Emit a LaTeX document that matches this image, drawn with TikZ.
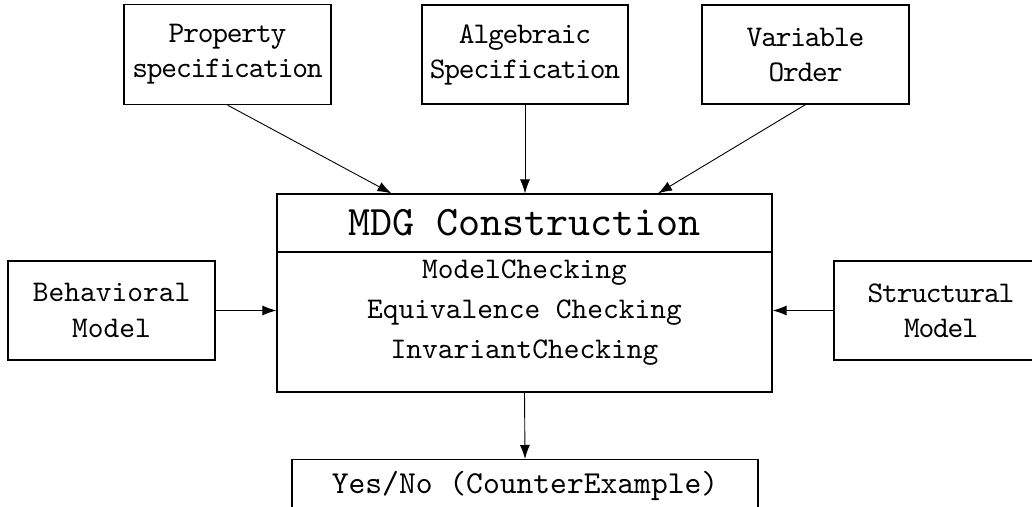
\documentclass[tikz,border=0pt]{standalone}
\usepackage{fontspec}
\usetikzlibrary{arrows.meta,calc}
% typewriter faces for the box labels
\newfontfamily\lblfont[Extension=.otf, LetterSpace=-4]{lmmono10-regular}
\newfontfamily\bodyfont[Extension=.otf]{lmmono10-regular}
\newfontfamily\headfont[Extension=.otf]{lmmono10-regular}
\begin{document}
\begin{tikzpicture}[x=1pt,y=-1pt,
  box/.style={draw, line width=1.2pt, inner sep=0pt, align=center},
  small/.style={font=\lblfont\fontsize{30}{35}\selectfont},
  wide/.style={font=\bodyfont\fontsize{30}{36}\selectfont},
  body/.style={font=\bodyfont\fontsize{30}{40}\selectfont, align=center, inner sep=0pt},
  head/.style={font=\headfont\fontsize{42}{48}\selectfont, inner sep=0pt},
  link/.style={line width=0.9pt, -{Latex[length=14pt,width=10pt]}}]
\useasboundingbox (0,0) rectangle (1032,506);
\clip (0,0) rectangle (1032,506);

% inputs along the top
\node[box, small, minimum width=207pt, minimum height=100pt] (prop) at (227.5,54.5) {Property\\specification};
\node[box, small, minimum width=206pt, minimum height=99pt] (alg) at (525,54.5) {Algebraic\\Specification};
\node[box, small, minimum width=207pt, minimum height=99pt] (var) at (805.5,54.5) {Variable\\Order};

% central engine
\node[box, minimum width=495pt, minimum height=198pt] (core) at (524.5,293) {};
\coordinate (split) at (524.5,252);
\draw[line width=1.2pt] (core.west |- split) -- (core.east |- split);
\node[head] (title) at (524.5,223) {MDG Construction};
\node[body] (tasks) at (524.5,313) {ModelChecking\\Equivalence Checking\\InvariantChecking};

% side models
\node[box, wide, minimum width=207pt, minimum height=99pt] (behav) at (111.5,310.5) {Behavioral\\Model};
\node[box, small, minimum width=214pt, minimum height=99pt] (struct) at (941,310.5) {Structural\\Model};

% verdict
\node[box, font=\bodyfont\fontsize{32}{38}\selectfont, minimum width=466pt, minimum height=52pt, anchor=north] (result) at (525,459) {Yes/No (CounterExample)};

% connectors
\draw[link] (prop.south) -- ($(core.north)+(-133,0)$);
\draw[link] (alg.south) -- (alg.south |- core.north);
\draw[link] (var.south) -- ($(core.north)+(133.5,0)$);
\draw[link] (behav.east) -- (behav.east -| core.west);
\draw[link] (struct.west) -- (struct.west -| core.east);
\draw[link] (core.south) -- (result.north);
\end{tikzpicture}
\end{document}
